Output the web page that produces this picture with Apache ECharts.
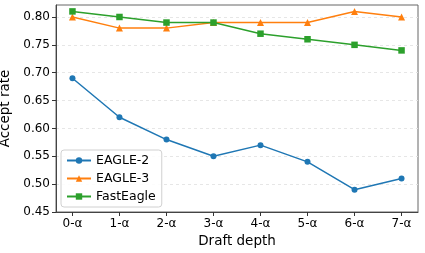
<!DOCTYPE html>
<html><head><meta charset="utf-8">
<script src="https://cdn.jsdelivr.net/npm/echarts@6/dist/echarts.min.js"></script>
<style>html,body{margin:0;padding:0;background:#fff}#c{width:425px;height:253px}</style>
</head><body><div id="c"></div>
<script>
const categories = ['0-α','1-α','2-α','3-α','4-α','5-α','6-α','7-α'];
const eagle2 = [0.69, 0.62, 0.58, 0.55, 0.57, 0.54, 0.49, 0.51];
const eagle3 = [0.80, 0.78, 0.78, 0.79, 0.79, 0.79, 0.81, 0.80];
const fastEagle = [0.81, 0.80, 0.79, 0.79, 0.77, 0.76, 0.75, 0.74];
const yTicks = [0.45, 0.50, 0.55, 0.60, 0.65, 0.70, 0.75, 0.80];

const font = 'DejaVu Sans';
const idx = categories.map((_, i) => i);
const pairs = arr => arr.map((v, i) => [i, v]);
const chart = echarts.init(document.getElementById('c'));
const mk = (name, data, color, symbol, size) => ({
  name, type: 'line', data: pairs(data), symbol, symbolSize: size,
  lineStyle: {color, width: 1.5}, itemStyle: {color}, animation: false
});
chart.setOption({
  animation: false,
  textStyle: {fontFamily: font},
  grid: {left: 56, right: 7, top: 5, bottom: 41, containLabel: false, outerBoundsMode: 'none',
         show: true, borderColor: '#666', borderWidth: 1},
  xAxis: {
    type: 'value', min: -0.35, max: 7.35,
    name: 'Draft depth', nameLocation: 'middle', nameGap: 22,
    nameTextStyle: {fontSize: 13.5, color: '#000', fontFamily: font},
    axisLine: {show: true, onZero: false, lineStyle: {color: '#444'}},
    axisTick: {show: true, customValues: idx, length: 4, lineStyle: {color: '#333'}},
    axisLabel: {customValues: idx, formatter: v => categories[Math.round(v)], fontSize: 12, color: '#000', margin: 6, fontFamily: font},
    splitLine: {show: false}
  },
  yAxis: {
    type: 'value', min: 0.45, max: 0.8215,
    name: 'Accept rate', nameLocation: 'middle', nameGap: 42, nameRotate: 90,
    nameTextStyle: {fontSize: 13.5, color: '#000', fontFamily: font},
    axisLine: {show: true, onZero: false, lineStyle: {color: '#444'}},
    axisTick: {show: true, customValues: yTicks, length: 4, lineStyle: {color: '#333'}},
    axisLabel: {customValues: yTicks, formatter: v => v.toFixed(2), fontSize: 12, color: '#000', margin: 6, fontFamily: font},
    splitLine: {show: true, lineStyle: {color: '#e0e0e0', type: [3, 3], width: 0.8}}
  },
  legend: {
    orient: 'vertical', left: 61, top: 150,
    itemWidth: 24, itemHeight: 8, itemGap: 5,
    backgroundColor: 'rgba(255,255,255,0.85)', borderColor: '#d0d0d0', borderWidth: 1, borderRadius: 3,
    padding: [4, 6, 4, 5],
    textStyle: {fontSize: 12.5, color: '#000', fontFamily: font},
    data: ['EAGLE-2', 'EAGLE-3', 'FastEagle']
  },
  series: [
    mk('EAGLE-2', eagle2, '#1f77b4', 'circle', 6),
    mk('EAGLE-3', eagle3, '#ff7f0e', 'triangle', 7),
    mk('FastEagle', fastEagle, '#2ca02c', 'rect', 6.5)
  ]
});
</script></body></html>
